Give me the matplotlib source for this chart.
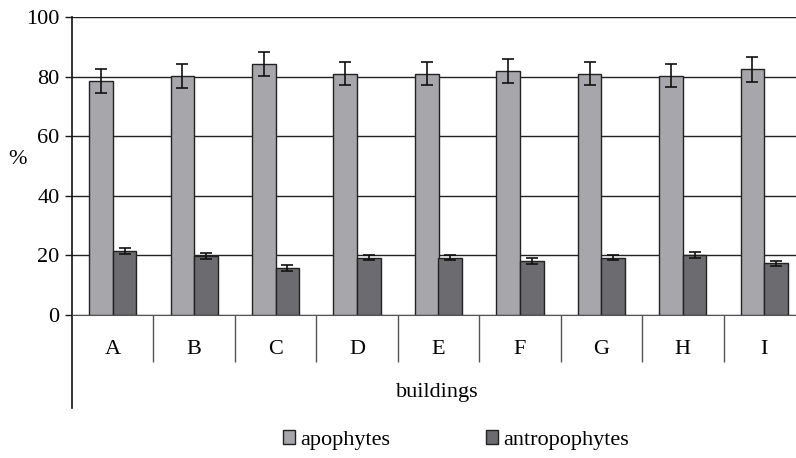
import numpy as np
import matplotlib.pyplot as plt
from matplotlib.lines import Line2D

plt.rcParams['font.family'] = ['Liberation Serif', 'DejaVu Serif']

# data
buildings = ['A', 'B', 'C', 'D', 'E', 'F', 'G', 'H', 'I']
apophytes = [78.5, 80.1, 84.1, 81.0, 81.0, 82.0, 81.0, 80.3, 82.4]
apophytes_err = [3.9, 4.0, 4.0, 3.8, 3.8, 4.0, 3.8, 3.8, 4.3]
antropophytes = [21.5, 19.9, 15.9, 19.2, 19.2, 18.2, 19.2, 20.0, 17.3]
antropophytes_err = [1.1, 1.0, 1.0, 0.8, 0.8, 1.0, 0.8, 1.0, 0.8]

FS = 16
fig = plt.figure(figsize=(7.96, 4.58), dpi=100)
# the plot area runs a little past the right edge of the picture
ax = fig.add_axes([72/796, 1-315/458, (805-72)/796, (315-17)/458])

x = np.arange(len(buildings))
w = 0.29
ax.bar(x - w/2, apophytes, w, color='#a7a7ab', edgecolor='#222222', lw=1.0,
       yerr=apophytes_err, capsize=4.5,
       error_kw=dict(elinewidth=1.2, capthick=1.2, ecolor='#111111'),
       label='apophytes', zorder=3)
ax.bar(x + w/2, antropophytes, w, color='#6c6c70', edgecolor='#222222', lw=1.0,
       yerr=antropophytes_err, capsize=4.5,
       error_kw=dict(elinewidth=1.2, capthick=1.2, ecolor='#111111'),
       label='antropophytes', zorder=3)

ax.set_xlim(-0.5, len(buildings) - 0.5)
ax.set_ylim(0, 100)
ax.set_yticks([0, 20, 40, 60, 80, 100])
ax.yaxis.grid(True, color='#222222', lw=1.0, zorder=0)
ax.tick_params(axis='y', length=5, width=1.0, color='#1a1a1a', labelsize=FS, pad=4)

ax.set_xticks(x)
ax.set_xticklabels(buildings, fontsize=FS)
ax.tick_params(axis='x', which='major', length=0, pad=18)
ax.set_xticks(np.arange(0.5, len(buildings), 1), minor=True)
ax.tick_params(axis='x', which='minor', length=34, width=1.0, color='#555555')

for s in ['top', 'right']:
    ax.spines[s].set_visible(False)
ax.spines['bottom'].set_color('#555555')
ax.spines['left'].set_visible(False)
# left axis line that runs down past the category band
ax.add_line(Line2D([0, 0], [1, -(408-315)/298], transform=ax.transAxes,
                   color='#111111', lw=1.2, clip_on=False))

fig.text(8/796, 1-160/458, '%', fontsize=FS, ha='left', va='center')
fig.text(437/796, 1-393/458, 'buildings', fontsize=FS, ha='center', va='center')

fig.legend(loc='center', bbox_to_anchor=(456/796, 1-440/458), ncol=2,
           frameon=False, fontsize=FS, handlelength=0.55, handleheight=0.55,
           handletextpad=0.25, columnspacing=4.3)

fig.savefig('out.png', dpi=100)
